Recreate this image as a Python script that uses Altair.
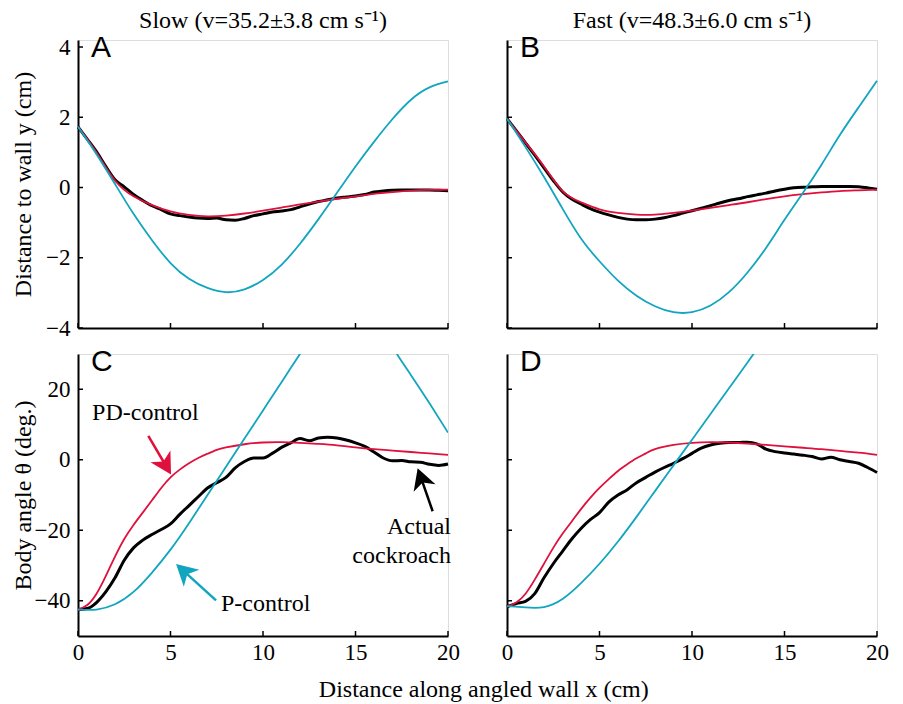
import math
import altair as alt
import pandas as pd

SERIF = "Liberation Serif, Times New Roman, Times, serif"
SANS = "Liberation Sans, Arial, Helvetica, sans-serif"
INK = "#000000"
RED = "#e0103c"
CYAN = "#12a5bf"

PANEL_W = 370
TOP_H = 288
BOT_H = 282
X_DOMAIN = [0, 20]
TOP_DOMAIN = [-4, 4.2]
BOT_DOMAIN = [-50, 30]

X_TICKS = [0, 5, 10, 15, 20]
TOP_TICKS = [-4, -2, 0, 2, 4]
BOT_TICKS = [-40, -20, 0, 20]

COL_TITLES = ["Slow (v=35.2±3.8 cm s⁻¹)", "Fast (v=48.3±6.0 cm s⁻¹)"]
PANEL_LETTERS = ["A", "B", "C", "D"]
Y_TITLES = ["Distance to wall y (cm)", "Body angle θ (deg.)"]
X_TITLE = "Distance along angled wall x (cm)"

# sampling positions (cm)
X_HALF = [0, 0.5, 1, 1.5, 2, 2.5, 3, 3.5, 4, 4.5, 5, 5.5, 6, 6.5, 7, 7.5, 8, 8.5, 9, 9.5,
          10, 10.5, 11, 11.5, 12, 12.5, 13, 13.5, 14, 14.5, 15, 15.5, 16, 16.5, 17, 17.5,
          18, 18.5, 19, 19.5, 20]
X_ONE = [0, 1, 2, 3, 4, 5, 6, 7, 8, 9, 10, 11, 12, 13, 14, 15, 16, 17, 18, 19, 20]
X_FINE_START = [0, 0.5, 1, 1.5, 2, 2.5, 3, 3.5, 4, 4.5, 5, 5.5, 6, 6.5, 7, 7.5, 8,
                9, 10, 11, 12, 13, 14, 15, 16, 17, 18, 19, 20]
X_CYAN_D = [0, 1, 2, 3, 4, 5, 6, 7, 8, 9, 10, 11, 12, 13, 14, 15]

# Panel A: slow, distance to wall y (cm)
A_BLACK = [1.73, 1.38, 1.02, 0.6, 0.22, 0.02, -0.2, -0.37, -0.52, -0.63, -0.75, -0.8, -0.84,
           -0.87, -0.88, -0.87, -0.92, -0.93, -0.88, -0.8, -0.75, -0.7, -0.67, -0.63, -0.55,
           -0.47, -0.4, -0.35, -0.3, -0.27, -0.24, -0.2, -0.13, -0.1, -0.08, -0.07, -0.07,
           -0.07, -0.07, -0.08, -0.09]
A_RED = [1.73, 1.0, 0.2, -0.25, -0.5, -0.68, -0.78, -0.82, -0.8, -0.74, -0.66, -0.57, -0.48,
         -0.4, -0.32, -0.25, -0.18, -0.13, -0.09, -0.07, -0.06]
A_CYAN = [1.73, 0.95, 0.1, -0.75, -1.5, -2.15, -2.6, -2.86, -2.98, -2.9, -2.63, -2.2, -1.6,
          -0.9, -0.15, 0.6, 1.3, 1.95, 2.5, 2.85, 3.02]

# Panel B: fast, distance to wall y (cm)
B_BLACK = [1.96, 1.62, 1.27, 0.92, 0.56, 0.2, -0.12, -0.33, -0.47, -0.6, -0.7, -0.78, -0.85,
           -0.9, -0.92, -0.92, -0.9, -0.86, -0.8, -0.73, -0.66, -0.59, -0.52, -0.44, -0.37,
           -0.32, -0.26, -0.21, -0.16, -0.1, -0.05, -0.01, 0.01, 0.02, 0.03, 0.03, 0.03,
           0.03, 0.02, -0.01, -0.05]
B_RED = [1.96, 1.28, 0.6, -0.1, -0.42, -0.62, -0.72, -0.77, -0.77, -0.72, -0.66, -0.58, -0.5,
         -0.42, -0.33, -0.25, -0.19, -0.14, -0.1, -0.08, -0.06]
B_CYAN = [1.96, 1.15, 0.3, -0.6, -1.45, -2.1, -2.65, -3.08, -3.38, -3.55, -3.55, -3.36, -2.98,
          -2.42, -1.72, -0.92, -0.15, 0.65, 1.5, 2.28, 3.04]

# Panel C: slow, body angle theta (deg.)
C_BLACK = [-42.5, -42.2, -40.5, -37.5, -33.5, -28.5, -25, -22.8, -21.2, -19.8, -18.2, -15.5,
           -13, -10.5, -8, -6.5, -5, -2.3, -0.5, 0.5, 0.5, 1.8, 3.5, 4.8, 6, 5.4, 6.2, 6.4,
           6.2, 5.6, 4.8, 3.8, 2.2, 0.5, -0.3, -0.2, -0.6, -0.7, -1.3, -1.6, -1.2]
C_RED = [-42.5, -41.2, -38, -33, -27.5, -22.5, -18.5, -15, -11.5, -8, -5, -2.8, -1, 0.5, 1.7,
         2.8, 3.5, 4.4, 4.9, 5, 4.8, 4.5, 4.1, 3.5, 3, 2.6, 2.2, 1.8, 1.4]
C_CYAN = [-42.5, -42.5, -41, -37.5, -32, -25.5, -18, -10, -2, 6, 14, 22, 30, 37, 41, 42,
          40, 32, 24, 16, 7.7]

# Panel D: fast, body angle theta (deg.)
D_BLACK = [-41.7, -40.8, -40.2, -38, -33.5, -29.5, -26, -22.5, -19.5, -17, -15, -12, -10,
           -8.5, -6.5, -5, -3.5, -2.2, -1, 0.3, 1.8, 3.3, 4.2, 4.7, 4.9, 4.9, 5, 4.5, 3, 2.3,
           1.9, 1.6, 1.3, 0.9, 0.2, 0.7, 0, -0.5, -1, -2.2, -3.6]
D_RED = [-41.7, -40.5, -38, -34, -29.5, -25, -21, -17.5, -14, -10.8, -8, -5.5, -3.2, -1.3, 0.4,
         1.8, 3, 4.2, 4.8, 5, 4.9, 4.6, 4.2, 3.8, 3.4, 3, 2.5, 2, 1.4]
D_CYAN = [-41.5, -41.9, -41.8, -39.5, -35, -29.5, -23.2, -16.2, -8.9, -1.6, 5.7, 13, 20.3,
          27.6, 35, 42]

# Panel C annotations (data units)
LABEL_TEXT = ["PD-control", "P-control", "Actual", "cockroach"]
LABEL_X = [0.76, 7.73, 20.16, 20.16]
LABEL_Y = [11.4, -42.9, -21.1, -29.3]
LABEL_ALIGN = ["left", "left", "right", "right"]
ARROW_TAIL_X = [3.8, 7.46, 19.17]
ARROW_TAIL_Y = [6.8, -39.9, -14.6]
ARROW_TIP_X = [5.03, 5.3, 18.36]
ARROW_TIP_Y = [-4.2, -29.6, -2.4]
ARROW_COLOR = [RED, CYAN, INK]

XS = alt.Scale(domain=X_DOMAIN, nice=False, zero=False)
YS_TOP = alt.Scale(domain=TOP_DOMAIN, nice=False, zero=False)
YS_BOT = alt.Scale(domain=BOT_DOMAIN, nice=False, zero=False)

FS = 24      # titles and annotations
FS_TICK = 23  # tick labels


def annotations():
    out = []
    for align in ["left", "right"]:
        rows = [(t, x, y) for t, x, y, a in zip(LABEL_TEXT, LABEL_X, LABEL_Y, LABEL_ALIGN) if a == align]
        df = pd.DataFrame({"t": [r[0] for r in rows], "x": [r[1] for r in rows], "y": [r[2] for r in rows]})
        out.append(alt.Chart(df).mark_text(font=SERIF, fontSize=FS, align=align, baseline="alphabetic",
                                           color=INK).encode(
            x=alt.X("x:Q", scale=XS), y=alt.Y("y:Q", scale=YS_BOT), text="t:N"))
    kx = PANEL_W / (X_DOMAIN[1] - X_DOMAIN[0])
    ky = BOT_H / (BOT_DOMAIN[1] - BOT_DOMAIN[0])
    head = 21
    path = "M0,-1L1.1,1L0,0.45L-1.1,1Z"
    for tx, ty, sx, sy, col in zip(ARROW_TIP_X, ARROW_TIP_Y, ARROW_TAIL_X, ARROW_TAIL_Y, ARROW_COLOR):
        dxp = (tx - sx) * kx
        dyp = -(ty - sy) * ky
        L = math.hypot(dxp, dyp)
        ux, uy = dxp / L, dyp / L
        cx = tx - ux * head / 2 / kx
        cy = ty + uy * head / 2 / ky
        ang = math.degrees(math.atan2(ux, -uy)) % 360
        sdf = pd.DataFrame({"x": [sx], "y": [sy], "x2": [cx], "y2": [cy]})
        out.append(alt.Chart(sdf).mark_rule(color=col, strokeWidth=2.5).encode(
            x=alt.X("x:Q", scale=XS), y=alt.Y("y:Q", scale=YS_BOT),
            x2="x2:Q", y2="y2:Q"))
        hdf = pd.DataFrame({"x": [cx], "y": [cy]})
        out.append(alt.Chart(hdf).mark_point(shape=path, size=head * head, angle=ang, filled=True,
                                             color=col, opacity=1, strokeWidth=0).encode(
            x=alt.X("x:Q", scale=XS), y=alt.Y("y:Q", scale=YS_BOT)))
    return out


def panel(letter, is_top, is_left, lines, title=None, extras=()):
    h = TOP_H if is_top else BOT_H
    ys = YS_TOP if is_top else YS_BOT
    yvals = TOP_TICKS if is_top else BOT_TICKS
    x_axis = alt.Axis(values=X_TICKS, ticks=False, labels=not is_top, domainColor=INK, domainWidth=2,
                      labelFont=SERIF, labelFontSize=FS_TICK, labelColor=INK, labelPadding=5,
                      labelFlush=False, labelOverlap=False, grid=False, title=None)
    ykw = dict(values=yvals, ticks=False, labels=is_left, domainColor=INK, domainWidth=2,
               labelFont=SERIF, labelFontSize=FS_TICK, labelColor=INK, labelPadding=8,
               labelFlush=False, labelOverlap=False, grid=False)
    if is_left:
        ykw.update(title=(Y_TITLES[0] if is_top else Y_TITLES[1]), titleFont=SERIF, titleFontSize=FS,
                   titleFontWeight="normal", titleColor=INK, titleX=-43)
    else:
        ykw.update(title=None)
    y_axis = alt.Axis(**ykw)
    layers = []
    for xv, yv, col, width, clip, interp in lines:
        df = pd.DataFrame({"x": xv, "y": yv})
        layers.append(alt.Chart(df).mark_line(color=col, strokeWidth=width, interpolate=interp,
                                              clip=clip).encode(
            x=alt.X("x:Q", scale=XS), y=alt.Y("y:Q", scale=ys)))
    xt = pd.DataFrame({"x": X_TICKS})
    layers.append(alt.Chart(xt).mark_rule(color=INK, strokeWidth=1.5).encode(
        x=alt.X("x:Q", scale=XS), y=alt.value(h), y2=alt.value(h - 5)))
    yt = pd.DataFrame({"y": yvals})
    layers.append(alt.Chart(yt).mark_rule(color=INK, strokeWidth=1.5).encode(
        y=alt.Y("y:Q", scale=ys), x=alt.value(0), x2=alt.value(5)))
    layers.append(alt.Chart(pd.DataFrame({"t": [letter]})).mark_text(
        font=SANS, fontSize=30, align="left", baseline="alphabetic", color=INK).encode(
        text="t:N", x=alt.value(13), y=alt.value(17)))
    layers.extend(extras)
    ch = alt.layer(*layers).encode(
        x=alt.X("x:Q", scale=XS, axis=x_axis),
        y=alt.Y("y:Q", scale=ys, axis=y_axis),
    ).properties(width=PANEL_W, height=h)
    if title:
        ch = ch.properties(title=alt.TitleParams(text=title, font=SERIF, fontSize=FS, fontWeight="normal",
                                                 color=INK, anchor="middle", frame="group", offset=0))
    return ch


def lines_for(black, xb, red, xr, cyan, xc, clip):
    return [(xb, black, INK, 3, False, "monotone"),
            (xr, red, RED, 1.8, False, "natural"),
            (xc, cyan, CYAN, 1.8, clip, "natural")]


pA = panel("A", True, True, lines_for(A_BLACK, X_HALF, A_RED, X_ONE, A_CYAN, X_ONE, False),
           title=COL_TITLES[0])
pB = panel("B", True, False, lines_for(B_BLACK, X_HALF, B_RED, X_ONE, B_CYAN, X_ONE, False),
           title=COL_TITLES[1])
pC = panel("C", False, True, lines_for(C_BLACK, X_HALF, C_RED, X_FINE_START, C_CYAN, X_ONE, True),
           extras=annotations())
pD = panel("D", False, False, lines_for(D_BLACK, X_HALF, D_RED, X_FINE_START, D_CYAN, X_CYAN_D, True))

chart = alt.concat(pA, pB, pC, pD, columns=2, spacing={"row": 26, "column": 59}, bounds="flush").properties(
    title=alt.TitleParams(text=X_TITLE, orient="bottom", anchor="middle", font=SERIF, fontSize=FS,
                          fontWeight="normal", color=INK, dx=34, offset=13),
    padding={"left": 2, "top": 0, "right": 5, "bottom": 5},
).configure_view(stroke=None).configure(background="white")

chart.save("out.html", embed_options={"renderer": "svg", "actions": False})
